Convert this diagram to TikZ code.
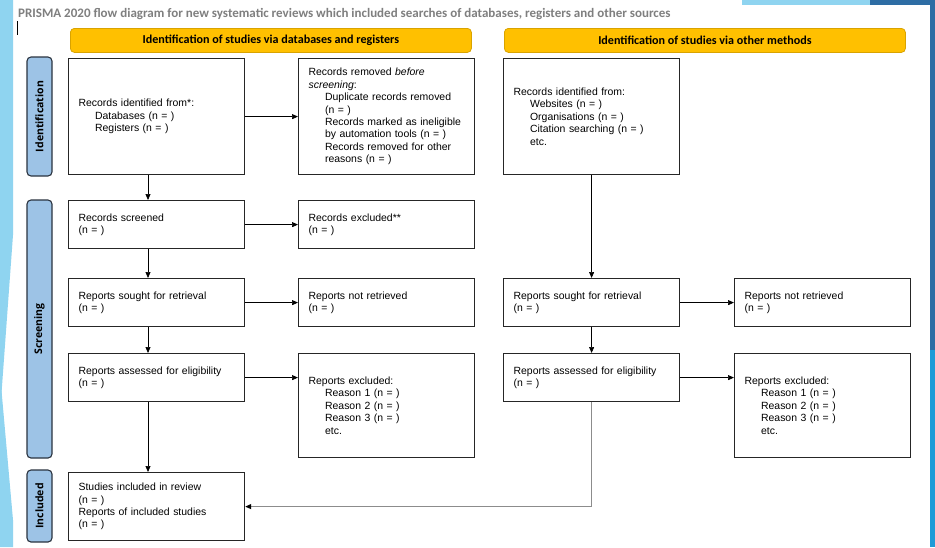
\documentclass[tikz,border=0pt]{standalone}
\usepackage{fontspec}
\setmainfont{Liberation Sans}
\newfontfamily\calib{Carlito}
\newfontfamily\opens{Open Sans}
\usetikzlibrary{arrows.meta,calc}
\definecolor{hdrfill}{HTML}{FFC000}
\definecolor{hdrdraw}{HTML}{D9A300}
\definecolor{sidefill}{HTML}{9DC3E6}
\definecolor{sidedraw}{HTML}{2B3440}
\definecolor{titlegray}{HTML}{7F7F7F}
\definecolor{lblue}{HTML}{8FD4F0}
\definecolor{mblue}{HTML}{1E9BD7}
\definecolor{dblue}{HTML}{2E6DA4}
\definecolor{boxdraw}{HTML}{262626}
\definecolor{linegray}{HTML}{8C8C8C}
\tikzset{
  flowbox/.style={draw=boxdraw, line width=1.2pt, fill=white, rectangle, anchor=north west,
    inner xsep=10pt, inner ysep=2pt, align=left, font=\fontsize{10.45}{12.4}\selectfont},
  hdr/.style={draw=hdrdraw, line width=0.8pt, fill=hdrfill, rounded corners=4pt, anchor=north west,
    minimum width=401pt, minimum height=24pt, font=\calib\bfseries\fontsize{12.1}{13}\selectfont},
  side/.style={draw=sidedraw, line width=1.1pt, fill=sidefill, rounded corners=4pt, rotate=90,
    minimum height=25pt, inner sep=0pt, font=\opens\bfseries\fontsize{10.5}{12}\selectfont},
  arr/.style={-{Triangle[length=6pt,width=5pt]}, line width=0.7pt, draw=black},
  grayarr/.style={-{Triangle[length=6pt,width=5pt,color=black]}, line width=1pt, draw=linegray},
}
\newcommand{\ind}{\hspace*{16.5pt}}
\begin{document}
\begin{tikzpicture}[x=1pt,y=-1pt]
\useasboundingbox (0,0) rectangle (935,547);
% background
\fill[white] (0,0) rectangle (935,547);
\fill[lblue] (0,0) -- (13,0) -- (13,235) -- (1,400) -- (0,400) -- cycle;
\fill[lblue] (0,385) -- (1,385) -- (13,520) -- (13,547) -- (0,547) -- cycle;
\fill[lblue] (742,0) -- (870,0) -- (870,5) -- (742,5) -- cycle;
\fill[dblue] (870,0) rectangle (935,5);
\fill[dblue] (930,0) rectangle (935,350);
\fill[mblue] (930,350) rectangle (935,547);
% title
\node[anchor=base west, inner sep=0pt, text=titlegray, font=\calib\bfseries\fontsize{13}{15}\selectfont] (title) at (18,17)
  {PRISMA 2020 flow diagram for new systematic reviews which included searches of databases, registers and other sources};
\draw[line width=0.8pt] (17,21) coordinate (cur1) -- (17,35) coordinate (cur2);
% headers
\node[hdr] (h1) at (70,28) {Identification of studies via databases and registers};
\node[hdr] (h2) at (504,28) {Identification of studies via other methods};
% side labels
\node[side, minimum width=119pt] (s1) at (39.5,116.5) {Identification};
\node[side, minimum width=258pt] (s2) at (39.5,329) {Screening};
\node[side, minimum width=72pt] (s3) at (39.5,506) {Included};
% boxes
\node[flowbox, minimum width=176pt, minimum height=116pt, text width=156pt] (A) at (68,58)
  {Records identified from*:\\\ind Databases (n = )\\\ind Registers (n = )};
\node[flowbox, minimum width=176pt, minimum height=116pt, text width=156pt] (B) at (298,58)
  {Records removed \textit{before}\\\textit{screening}:\\\ind Duplicate records removed\\\ind (n = )\\\ind Records marked as ineligible\\\ind by automation tools (n = )\\\ind Records removed for other\\\ind reasons (n = )};
\node[flowbox, minimum width=176pt, minimum height=116pt, text width=156pt] (C) at (503,58)
  {Records identified from:\\\ind Websites (n = )\\\ind Organisations (n = )\\\ind Citation searching (n = )\\\ind etc.};
\node[flowbox, minimum width=176pt, minimum height=48pt, text width=156pt] (D) at (68,200)
  {Records screened\\(n = )};
\node[flowbox, minimum width=176pt, minimum height=48pt, text width=156pt] (E) at (298,200)
  {Records excluded**\\(n = )};
\node[flowbox, minimum width=176pt, minimum height=48pt, text width=156pt] (F) at (68,278)
  {Reports sought for retrieval\\(n = )};
\node[flowbox, minimum width=176pt, minimum height=48pt, text width=156pt] (G) at (298,278)
  {Reports not retrieved\\(n = )};
\node[flowbox, minimum width=176pt, minimum height=48pt, text width=156pt] (H) at (503,278)
  {Reports sought for retrieval\\(n = )};
\node[flowbox, minimum width=176pt, minimum height=48pt, text width=156pt] (I) at (734,278)
  {Reports not retrieved\\(n = )};
\node[flowbox, minimum width=176pt, minimum height=48pt, text width=156pt] (J) at (68,353)
  {Reports assessed for eligibility\\(n = )};
\node[flowbox, minimum width=176pt, minimum height=104pt, text width=156pt] (K) at (298,353)
  {Reports excluded:\\\ind Reason 1 (n = )\\\ind Reason 2 (n = )\\\ind Reason 3 (n = )\\\ind etc.};
\node[flowbox, minimum width=176pt, minimum height=48pt, text width=156pt] (L) at (503,353)
  {Reports assessed for eligibility\\(n = )};
\node[flowbox, minimum width=176pt, minimum height=104pt, text width=156pt] (M) at (734,353)
  {Reports excluded:\\\ind Reason 1 (n = )\\\ind Reason 2 (n = )\\\ind Reason 3 (n = )\\\ind etc.};
\node[flowbox, minimum width=176pt, minimum height=68pt, text width=156pt] (N) at (68,472)
  {Studies included in review\\(n = )\\Reports of included studies\\(n = )};
% connectors
\coordinate (colL) at (148,0);
\draw[arr] (A.east) -- (B.west);
\draw[arr] (A.south -| colL) -- (D.north -| colL);
\draw[arr] (D.east) -- (E.west);
\draw[arr] (D.south -| colL) -- (F.north -| colL);
\draw[arr] (F.east) -- (G.west);
\draw[arr] (F.south -| colL) -- (J.north -| colL);
\draw[arr] (J.east) -- (J.east -| K.west);
\draw[arr] (J.south -| colL) -- (N.north -| colL);
\draw[arr] (C.south) -- (H.north);
\draw[arr] (H.east) -- (I.west);
\draw[arr] (H.south) -- (L.north);
\draw[arr] (L.east) -- (L.east -| M.west);
\draw[grayarr] (L.south) |- (N.east);
\end{tikzpicture}
\end{document}
